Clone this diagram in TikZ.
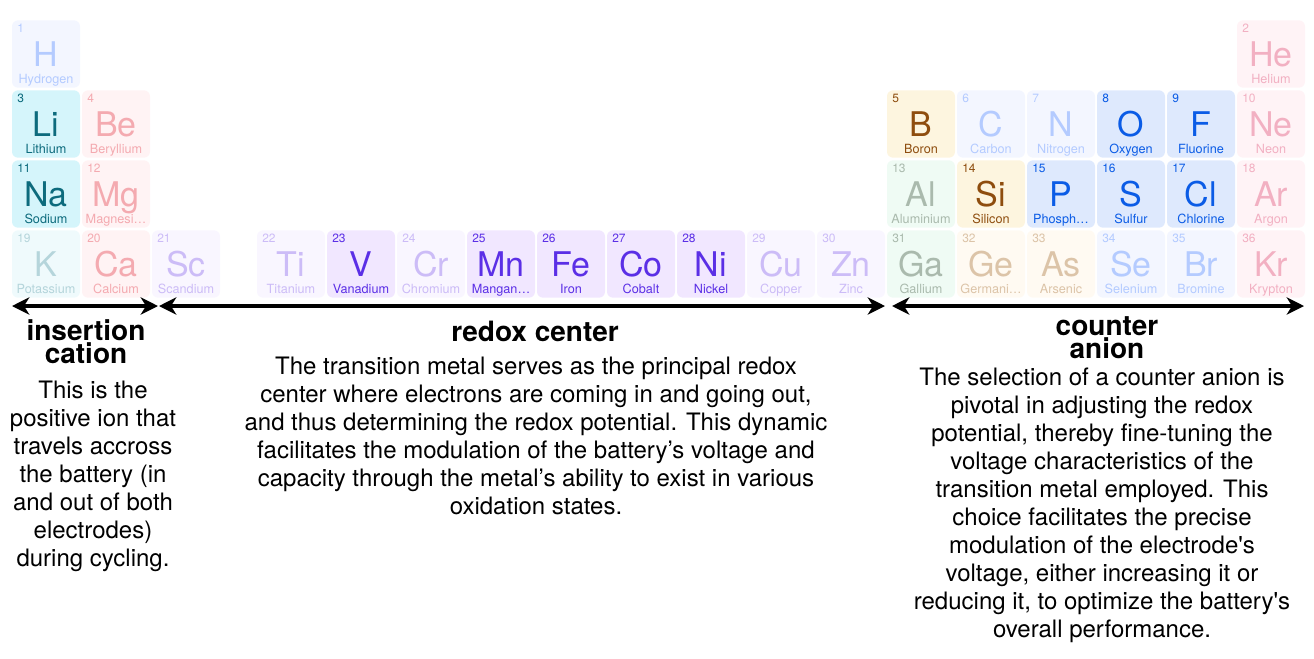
\documentclass[tikz,border=0pt]{standalone}
\usepackage{fontspec}
\setmainfont{TeX Gyre Heros}
\usepackage{tikz}
\usetikzlibrary{arrows.meta}

\definecolor{hydbg}{HTML}{F3F6FF}  \definecolor{hydfg}{HTML}{B4CBFF}
\definecolor{alkbg}{HTML}{D5F5FB}  \definecolor{alkfg}{HTML}{0D6B7D}
\definecolor{alkxbg}{HTML}{EFFAFC} \definecolor{alkxfg}{HTML}{B5D5DB}
\definecolor{earbg}{HTML}{FFF3F4}  \definecolor{earfg}{HTML}{F4AAB0}
\definecolor{trnbg}{HTML}{F1E7FF}  \definecolor{trnfg}{HTML}{5B2FE6}
\definecolor{trnxbg}{HTML}{F9F6FF} \definecolor{trnxfg}{HTML}{CCBCF7}
\definecolor{metbg}{HTML}{FDF5DF}  \definecolor{metfg}{HTML}{8E4D0E}
\definecolor{metxbg}{HTML}{FFFAF2} \definecolor{metxfg}{HTML}{DCC4A8}
\definecolor{nonbg}{HTML}{DEE9FD}  \definecolor{nonfg}{HTML}{0B5CE6}
\definecolor{nonxbg}{HTML}{F3F6FF} \definecolor{nonxfg}{HTML}{B4CBFF}
\definecolor{pstbg}{HTML}{EFFBF4}  \definecolor{pstfg}{HTML}{AABAAD}
\definecolor{nobbg}{HTML}{FFF3F6}  \definecolor{nobfg}{HTML}{F2B0C2}

% x, y (top left), number, symbol, name, colour set
\newcommand{\elem}[6]{%
\node[cell, fill=#6bg] (#4) at (#1+34,#2+34) {};
\node[elnum, text=#6fg] (#4-n) at (#1+5,#2+12) {#3};
\node[elsym, text=#6fg] (#4-s) at (#1+34,#2+46) {#4};
\node[elname, text=#6fg] (#4-t) at (#1+34,#2+63) {#5};
}

\begin{document}
\begin{tikzpicture}[x=0.75pt, y=-0.75pt,
  cell/.style={rectangle, rounded corners=4.5pt, minimum width=51pt, minimum height=50.5pt, inner sep=0pt},
  elnum/.style={anchor=base west, inner sep=0pt, font=\fontsize{9}{10}\selectfont},
  elsym/.style={anchor=base, inner sep=0pt, font=\fontsize{25.5}{30}\selectfont},
  elname/.style={anchor=base, inner sep=0pt, font=\fontsize{9.5}{11}\selectfont},
  head/.style={align=center, inner sep=0pt, font=\fontsize{21}{15.5}\selectfont\bfseries},
  body/.style={align=center, anchor=north, inner sep=0pt, font=\fontsize{18}{21}\selectfont},
  span/.style={line width=3pt, {Stealth[length=13pt,width=13pt,inset=4pt]}-{Stealth[length=13pt,width=13pt,inset=4pt]}}]
\useasboundingbox (0,0) rectangle (1314,658);

\elem{12}{20}{1}{H}{Hydrogen}{hyd}
\elem{1237}{20}{2}{He}{Helium}{nob}

\elem{12}{90}{3}{Li}{Lithium}{alk}
\elem{82}{90}{4}{Be}{Beryllium}{ear}
\elem{887}{90}{5}{B}{Boron}{met}
\elem{957}{90}{6}{C}{Carbon}{nonx}
\elem{1027}{90}{7}{N}{Nitrogen}{nonx}
\elem{1097}{90}{8}{O}{Oxygen}{non}
\elem{1167}{90}{9}{F}{Fluorine}{non}
\elem{1237}{90}{10}{Ne}{Neon}{nob}

\elem{12}{160}{11}{Na}{Sodium}{alk}
\elem{82}{160}{12}{Mg}{Magnesi…}{ear}
\elem{887}{160}{13}{Al}{Aluminium}{pst}
\elem{957}{160}{14}{Si}{Silicon}{met}
\elem{1027}{160}{15}{P}{Phosph…}{non}
\elem{1097}{160}{16}{S}{Sulfur}{non}
\elem{1167}{160}{17}{Cl}{Chlorine}{non}
\elem{1237}{160}{18}{Ar}{Argon}{nob}

\elem{12}{230}{19}{K}{Potassium}{alkx}
\elem{82}{230}{20}{Ca}{Calcium}{ear}
\elem{152}{230}{21}{Sc}{Scandium}{trnx}
\elem{257}{230}{22}{Ti}{Titanium}{trnx}
\elem{327}{230}{23}{V}{Vanadium}{trn}
\elem{397}{230}{24}{Cr}{Chromium}{trnx}
\elem{467}{230}{25}{Mn}{Mangan…}{trn}
\elem{537}{230}{26}{Fe}{Iron}{trn}
\elem{607}{230}{27}{Co}{Cobalt}{trn}
\elem{677}{230}{28}{Ni}{Nickel}{trn}
\elem{747}{230}{29}{Cu}{Copper}{trnx}
\elem{817}{230}{30}{Zn}{Zinc}{trnx}
\elem{887}{230}{31}{Ga}{Gallium}{pst}
\elem{957}{230}{32}{Ge}{Germani…}{metx}
\elem{1027}{230}{33}{As}{Arsenic}{metx}
\elem{1097}{230}{34}{Se}{Selenium}{nonx}
\elem{1167}{230}{35}{Br}{Bromine}{nonx}
\elem{1237}{230}{36}{Kr}{Krypton}{nob}

\coordinate (a1) at (12,306);
\coordinate (a2) at (158,306);
\coordinate (b1) at (159,306);
\coordinate (b2) at (885,306);
\coordinate (c1) at (892,306);
\coordinate (c2) at (1304,306);
\draw[span] (a1) -- (a2);
\draw[span] (b1) -- (b2);
\draw[span] (c1) -- (c2);

\node[head] (cation) at (86,341.5) {insertion\\cation};
\node[head, anchor=base] (redox) at (535,341.7) {redox center};
\node[head] (anion) at (1107,337.5) {counter\\anion};

\node[body] (cationtxt) at (93,381) {This is the\\positive ion that\\travels accross\\the battery (in\\and out of both\\electrodes)\\during cycling.};
\node[body] (redoxtxt) at (536,357) {The transition metal serves as the principal redox\\center where electrons are coming in and going out,\\and thus determining the redox potential. This dynamic\\facilitates the modulation of the battery’s voltage and\\capacity through the metal’s ability to exist in various\\oxidation states.};
\node[body] (aniontxt) at (1102,368) {The selection of a counter anion is\\pivotal in adjusting the redox\\potential, thereby fine-tuning the\\voltage characteristics of the\\transition metal employed. This\\choice facilitates the precise\\modulation of the electrode\textquotesingle s\\voltage, either increasing it or\\reducing it, to optimize the battery\textquotesingle s\\overall performance.};
\end{tikzpicture}
\end{document}
